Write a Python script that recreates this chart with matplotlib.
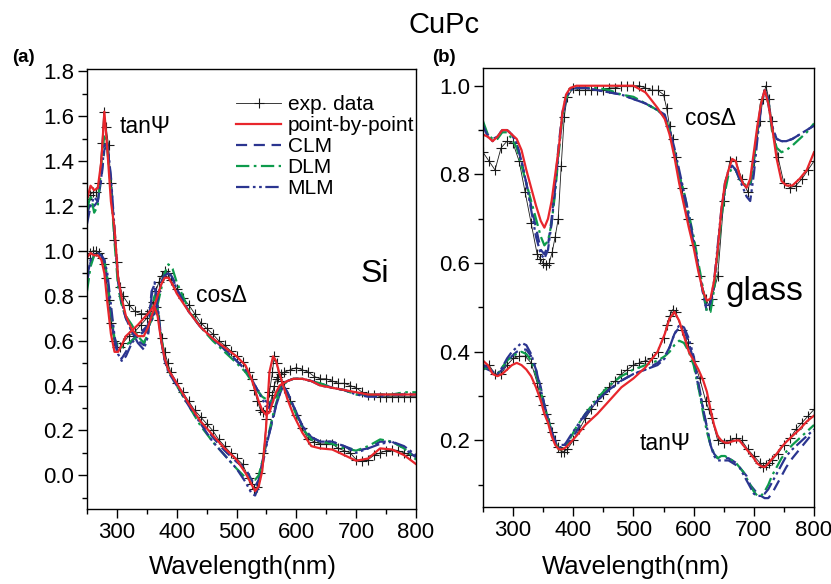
import numpy as np
import matplotlib
matplotlib.use("Agg")
import matplotlib.pyplot as plt
from matplotlib.ticker import MultipleLocator

plt.rcParams['font.family'] = ['Liberation Sans', 'DejaVu Sans']

# ---------------- panel (a): CuPc on Si ----------------
a_wl_exp = [250, 255, 260, 265, 270, 275, 278, 282, 286, 290,
            295, 300, 305, 310, 320, 330, 340, 350, 355, 360,
            365, 370, 375, 380, 385, 390, 400, 410, 420, 430,
            440, 450, 460, 470, 480, 490, 500, 510, 520, 525,
            530, 535, 540, 545, 550, 555, 560, 563, 567, 570,
            575, 580, 590, 600, 610, 620, 630, 640, 650, 660,
            670, 680, 690, 700, 710, 720, 730, 740, 750, 760,
            770, 780, 790, 800]
a_tan_exp = [1.23, 1.25, 1.26, 1.26, 1.30, 1.48, 1.62, 1.55, 1.47, 1.30,
             1.05, 0.95, 0.84, 0.80, 0.76, 0.73, 0.72, 0.72, 0.73, 0.75,
             0.75, 0.69, 0.61, 0.55, 0.50, 0.46, 0.41, 0.37, 0.33, 0.29,
             0.26, 0.23, 0.20, 0.16, 0.13, 0.10, 0.075, 0.05, -0.01, -0.04,
             -0.06, -0.05, 0.01, 0.10, 0.25, 0.37, 0.46, 0.53, 0.50, 0.46,
             0.42, 0.39, 0.33, 0.27, 0.21, 0.16, 0.15, 0.14, 0.14, 0.14,
             0.12, 0.11, 0.10, 0.07, 0.065, 0.07, 0.09, 0.10, 0.11, 0.115,
             0.11, 0.10, 0.09, 0.09]
a_cos_exp = [0.97, 0.99, 1.00, 1.00, 0.99, 0.97, 0.94, 0.88, 0.78, 0.68,
             0.60, 0.57, 0.57, 0.59, 0.62, 0.64, 0.67, 0.70, 0.73, 0.77,
             0.82, 0.86, 0.89, 0.91, 0.90, 0.87, 0.83, 0.79, 0.76, 0.72,
             0.68, 0.655, 0.63, 0.60, 0.58, 0.555, 0.53, 0.505, 0.46, 0.43,
             0.38, 0.33, 0.29, 0.28, 0.285, 0.31, 0.36, 0.40, 0.43, 0.44,
             0.45, 0.46, 0.47, 0.48, 0.47, 0.46, 0.44, 0.43, 0.43, 0.42,
             0.41, 0.41, 0.40, 0.39, 0.37, 0.36, 0.36, 0.35, 0.35, 0.35,
             0.35, 0.35, 0.35, 0.35]

a_wl_fit = [250, 256, 262, 268, 274, 279, 284, 290, 296, 302,
            308, 315, 325, 335, 345, 352, 358, 363, 368, 374,
            380, 386, 393, 400, 420, 440, 460, 480, 500, 515,
            525, 531, 537, 543, 549, 555, 561, 566, 572, 578,
            585, 595, 610, 625, 640, 660, 680, 700, 720, 740,
            760, 780, 800]
a_tan_pbp = [1.23, 1.29, 1.27, 1.28, 1.40, 1.62, 1.45, 1.22, 1.10, 0.88,
             0.79, 0.71, 0.65, 0.62, 0.62, 0.66, 0.71, 0.75, 0.71, 0.60,
             0.52, 0.47, 0.44, 0.41, 0.32, 0.24, 0.18, 0.12, 0.07, 0.01,
             -0.04, -0.07, -0.05, 0.02, 0.20, 0.46, 0.53, 0.51, 0.45, 0.40,
             0.34, 0.27, 0.19, 0.13, 0.12, 0.115, 0.09, 0.065, 0.075, 0.12,
             0.115, 0.09, 0.05]
a_tan_clm = [1.16, 1.22, 1.20, 1.22, 1.32, 1.45, 1.47, 1.32, 1.08, 0.86,
             0.76, 0.70, 0.64, 0.60, 0.58, 0.65, 0.82, 0.85, 0.74, 0.60,
             0.51, 0.47, 0.44, 0.41, 0.32, 0.24, 0.17, 0.11, 0.06, 0.03,
             -0.02, -0.05, -0.02, 0.06, 0.13, 0.19, 0.25, 0.31, 0.36, 0.40,
             0.37, 0.31, 0.22, 0.17, 0.15, 0.15, 0.13, 0.11, 0.12, 0.15,
             0.15, 0.12, 0.08]
a_tan_dlm = [1.18, 1.25, 1.17, 1.20, 1.38, 1.52, 1.45, 1.28, 1.04, 0.84,
             0.76, 0.71, 0.67, 0.62, 0.59, 0.63, 0.74, 0.80, 0.74, 0.62,
             0.52, 0.47, 0.43, 0.40, 0.31, 0.22, 0.15, 0.09, 0.03, -0.01,
             -0.02, -0.02, 0.00, 0.06, 0.14, 0.20, 0.27, 0.32, 0.37, 0.40,
             0.36, 0.30, 0.21, 0.16, 0.15, 0.14, 0.12, 0.11, 0.13, 0.16,
             0.15, 0.12, 0.07]
a_tan_mlm = [1.12, 1.20, 1.24, 1.22, 1.33, 1.47, 1.48, 1.33, 1.10, 0.88,
             0.77, 0.70, 0.64, 0.59, 0.56, 0.62, 0.80, 0.86, 0.76, 0.61,
             0.51, 0.46, 0.43, 0.40, 0.31, 0.23, 0.15, 0.09, 0.03, -0.03,
             -0.08, -0.09, -0.05, 0.04, 0.12, 0.19, 0.26, 0.31, 0.36, 0.40,
             0.37, 0.31, 0.22, 0.17, 0.15, 0.15, 0.13, 0.10, 0.12, 0.14,
             0.15, 0.13, 0.09]
a_cos_pbp = [0.97, 0.99, 0.98, 0.98, 0.96, 0.90, 0.77, 0.63, 0.55, 0.55,
             0.58, 0.62, 0.645, 0.67, 0.70, 0.72, 0.74, 0.76, 0.80, 0.85,
             0.88, 0.88, 0.85, 0.81, 0.73, 0.66, 0.61, 0.57, 0.53, 0.49,
             0.43, 0.38, 0.33, 0.29, 0.27, 0.28, 0.33, 0.37, 0.40, 0.41,
             0.42, 0.43, 0.43, 0.42, 0.40, 0.39, 0.38, 0.37, 0.36, 0.36,
             0.36, 0.36, 0.36]
a_cos_clm = [0.86, 0.95, 0.98, 0.99, 0.98, 0.95, 0.87, 0.72, 0.60, 0.53,
             0.52, 0.55, 0.60, 0.63, 0.65, 0.67, 0.70, 0.73, 0.79, 0.86,
             0.90, 0.91, 0.88, 0.83, 0.73, 0.66, 0.61, 0.56, 0.51, 0.47,
             0.43, 0.40, 0.37, 0.35, 0.33, 0.32, 0.34, 0.36, 0.39, 0.41,
             0.42, 0.43, 0.43, 0.42, 0.41, 0.39, 0.38, 0.36, 0.36, 0.36,
             0.36, 0.36, 0.36]
a_cos_dlm = [0.82, 0.93, 0.98, 0.99, 0.98, 0.96, 0.88, 0.73, 0.61, 0.57,
             0.57, 0.58, 0.60, 0.62, 0.64, 0.66, 0.69, 0.72, 0.76, 0.83,
             0.90, 0.94, 0.92, 0.86, 0.74, 0.66, 0.60, 0.55, 0.50, 0.46,
             0.42, 0.39, 0.37, 0.35, 0.34, 0.33, 0.33, 0.35, 0.38, 0.40,
             0.42, 0.43, 0.43, 0.42, 0.41, 0.39, 0.38, 0.36, 0.36, 0.36,
             0.36, 0.37, 0.37]
a_cos_mlm = [0.88, 0.96, 0.99, 0.99, 0.98, 0.96, 0.90, 0.76, 0.62, 0.54,
             0.51, 0.53, 0.59, 0.62, 0.64, 0.66, 0.69, 0.72, 0.78, 0.85,
             0.89, 0.90, 0.88, 0.83, 0.73, 0.66, 0.61, 0.56, 0.51, 0.47,
             0.43, 0.40, 0.37, 0.34, 0.31, 0.30, 0.33, 0.36, 0.39, 0.41,
             0.42, 0.43, 0.43, 0.42, 0.40, 0.39, 0.38, 0.36, 0.35, 0.35,
             0.36, 0.36, 0.36]

# ---------------- panel (b): CuPc on glass ----------------
b_wl_exp = [250, 260, 270, 280, 290, 300, 310, 320, 330, 340,
            345, 350, 355, 360, 365, 370, 375, 380, 385, 390,
            400, 410, 420, 430, 440, 450, 460, 470, 480, 490,
            500, 510, 520, 530, 540, 550, 555, 560, 565, 570,
            580, 590, 600, 610, 620, 625, 630, 640, 650, 660,
            670, 680, 690, 700, 710, 715, 720, 725, 730, 740,
            750, 760, 770, 780, 790, 800]
b_cos_exp = [0.85, 0.83, 0.81, 0.86, 0.875, 0.87, 0.83, 0.76, 0.69, 0.62,
             0.61, 0.60, 0.595, 0.60, 0.625, 0.66, 0.70, 0.82, 0.93, 0.975,
             0.995, 0.99, 0.99, 0.99, 0.99, 0.99, 0.995, 0.995, 1.0, 1.0,
             1.0, 1.0, 0.995, 0.99, 0.99, 0.98, 0.95, 0.91, 0.88, 0.84,
             0.77, 0.70, 0.64, 0.57, 0.52, 0.505, 0.52, 0.57, 0.74, 0.83,
             0.83, 0.79, 0.76, 0.83, 0.92, 0.97, 1.0, 0.97, 0.92, 0.84,
             0.78, 0.77, 0.775, 0.79, 0.81, 0.83]
b_tan_exp = [0.37, 0.37, 0.35, 0.35, 0.37, 0.385, 0.39, 0.39, 0.375, 0.33,
             0.30, 0.28, 0.26, 0.24, 0.22, 0.20, 0.185, 0.175, 0.175, 0.18,
             0.20, 0.225, 0.25, 0.27, 0.29, 0.305, 0.32, 0.335, 0.35, 0.36,
             0.37, 0.375, 0.38, 0.385, 0.40, 0.43, 0.46, 0.48, 0.495, 0.49,
             0.45, 0.42, 0.38, 0.34, 0.29, 0.27, 0.25, 0.20, 0.195, 0.20,
             0.205, 0.20, 0.18, 0.165, 0.15, 0.14, 0.145, 0.15, 0.155, 0.17,
             0.19, 0.205, 0.225, 0.24, 0.255, 0.27]

b_wl_fit = [250, 258, 266, 274, 282, 290, 298, 306, 314, 322,
            330, 338, 346, 352, 358, 364, 370, 376, 382, 388,
            395, 405, 420, 440, 460, 480, 500, 520, 540, 552,
            560, 568, 576, 584, 592, 600, 608, 616, 622, 628,
            634, 640, 646, 652, 658, 664, 670, 676, 682, 688,
            694, 700, 706, 712, 718, 724, 730, 738, 746, 754,
            764, 776, 788, 800]
b_cos_pbp = [0.89, 0.885, 0.875, 0.885, 0.90, 0.90, 0.89, 0.88, 0.855, 0.81,
             0.77, 0.73, 0.695, 0.68, 0.70, 0.74, 0.80, 0.86, 0.94, 0.98,
             0.995, 1.0, 1.0, 1.0, 1.0, 1.0, 1.0, 0.985, 0.95, 0.925,
             0.89, 0.84, 0.78, 0.73, 0.68, 0.635, 0.58, 0.535, 0.515, 0.52,
             0.56, 0.63, 0.72, 0.78, 0.81, 0.835, 0.83, 0.80, 0.78, 0.77,
             0.79, 0.85, 0.91, 0.96, 0.99, 0.96, 0.91, 0.835, 0.785, 0.775,
             0.775, 0.79, 0.81, 0.85]
b_cos_clm = [0.91, 0.89, 0.88, 0.885, 0.90, 0.90, 0.89, 0.87, 0.83, 0.78,
             0.73, 0.68, 0.63, 0.62, 0.64, 0.70, 0.78, 0.87, 0.94, 0.975,
             0.99, 0.995, 0.995, 0.99, 0.985, 0.98, 0.97, 0.96, 0.945, 0.93,
             0.90, 0.85, 0.80, 0.75, 0.70, 0.645, 0.59, 0.53, 0.49, 0.50,
             0.55, 0.63, 0.71, 0.77, 0.81, 0.82, 0.81, 0.79, 0.78, 0.77,
             0.77, 0.83, 0.90, 0.96, 0.99, 0.96, 0.91, 0.88, 0.875, 0.875,
             0.88, 0.89, 0.90, 0.91]
b_cos_dlm = [0.92, 0.89, 0.88, 0.88, 0.895, 0.895, 0.88, 0.86, 0.82, 0.78,
             0.74, 0.70, 0.66, 0.64, 0.65, 0.69, 0.76, 0.85, 0.93, 0.97,
             0.99, 0.995, 0.995, 0.995, 0.99, 0.98, 0.975, 0.96, 0.945, 0.93,
             0.90, 0.85, 0.80, 0.76, 0.71, 0.66, 0.60, 0.54, 0.49, 0.49,
             0.54, 0.62, 0.70, 0.76, 0.80, 0.815, 0.81, 0.79, 0.78, 0.775,
             0.78, 0.83, 0.90, 0.96, 0.99, 0.97, 0.90, 0.86, 0.85, 0.855,
             0.865, 0.88, 0.895, 0.915]
b_cos_mlm = [0.91, 0.885, 0.875, 0.885, 0.90, 0.90, 0.89, 0.87, 0.83, 0.78,
             0.72, 0.66, 0.62, 0.61, 0.63, 0.69, 0.77, 0.86, 0.93, 0.97,
             0.99, 0.995, 0.995, 0.99, 0.985, 0.98, 0.97, 0.96, 0.945, 0.935,
             0.90, 0.86, 0.81, 0.76, 0.71, 0.65, 0.59, 0.53, 0.50, 0.51,
             0.56, 0.64, 0.72, 0.78, 0.81, 0.82, 0.81, 0.79, 0.77, 0.75,
             0.74, 0.80, 0.88, 0.95, 0.99, 0.97, 0.91, 0.88, 0.875, 0.875,
             0.88, 0.89, 0.90, 0.91]
b_tan_pbp = [0.38, 0.37, 0.35, 0.345, 0.35, 0.36, 0.37, 0.375, 0.37, 0.36,
             0.345, 0.32, 0.29, 0.26, 0.24, 0.21, 0.19, 0.18, 0.18, 0.185,
             0.195, 0.21, 0.235, 0.26, 0.29, 0.32, 0.34, 0.365, 0.40, 0.44,
             0.475, 0.49, 0.47, 0.435, 0.40, 0.38, 0.36, 0.335, 0.31, 0.27,
             0.235, 0.21, 0.20, 0.195, 0.195, 0.198, 0.20, 0.20, 0.19, 0.18,
             0.17, 0.16, 0.148, 0.142, 0.14, 0.148, 0.158, 0.17, 0.185, 0.197,
             0.21, 0.225, 0.243, 0.256]
b_tan_clm = [0.365, 0.36, 0.355, 0.35, 0.36, 0.375, 0.39, 0.40, 0.405, 0.405,
             0.39, 0.36, 0.32, 0.28, 0.25, 0.22, 0.20, 0.19, 0.19, 0.19,
             0.20, 0.22, 0.255, 0.29, 0.315, 0.335, 0.35, 0.36, 0.375, 0.39,
             0.41, 0.44, 0.455, 0.45, 0.42, 0.38, 0.32, 0.27, 0.23, 0.19,
             0.17, 0.16, 0.16, 0.16, 0.16, 0.155, 0.15, 0.14, 0.13, 0.12,
             0.10, 0.09, 0.08, 0.075, 0.07, 0.07, 0.08, 0.10, 0.12, 0.14,
             0.16, 0.18, 0.20, 0.22]
b_tan_dlm = [0.36, 0.365, 0.355, 0.35, 0.365, 0.38, 0.39, 0.395, 0.40, 0.395,
             0.38, 0.35, 0.31, 0.28, 0.25, 0.22, 0.195, 0.18, 0.18, 0.19,
             0.205, 0.23, 0.26, 0.295, 0.325, 0.345, 0.36, 0.37, 0.38, 0.39,
             0.40, 0.415, 0.425, 0.42, 0.40, 0.37, 0.32, 0.26, 0.22, 0.19,
             0.17, 0.16, 0.165, 0.165, 0.16, 0.155, 0.15, 0.14, 0.13, 0.115,
             0.10, 0.085, 0.075, 0.075, 0.085, 0.10, 0.12, 0.14, 0.16, 0.175,
             0.19, 0.205, 0.22, 0.235]
b_tan_mlm = [0.37, 0.365, 0.355, 0.35, 0.365, 0.385, 0.40, 0.41, 0.42, 0.415,
             0.395, 0.36, 0.315, 0.28, 0.25, 0.22, 0.195, 0.185, 0.185, 0.195,
             0.21, 0.23, 0.26, 0.29, 0.315, 0.335, 0.35, 0.36, 0.37, 0.385,
             0.41, 0.44, 0.46, 0.455, 0.43, 0.39, 0.33, 0.27, 0.23, 0.19,
             0.165, 0.155, 0.155, 0.155, 0.155, 0.15, 0.145, 0.14, 0.125, 0.11,
             0.095, 0.08, 0.075, 0.075, 0.08, 0.09, 0.105, 0.125, 0.145, 0.165,
             0.18, 0.195, 0.21, 0.225]

RED = '#e8262c'
BLUE = '#2b3590'
GREEN = '#0d9b4c'

exp_style = dict(color='#1a1a1a', lw=0.6, marker='+', ms=7, mew=0.8)
fit_styles = {
    'CLM': dict(color=BLUE, lw=1.6, dashes=(5, 3)),
    'DLM': dict(color=GREEN, lw=1.6, dashes=(6, 2, 1.2, 2)),
    'MLM': dict(color=BLUE, lw=1.6, dashes=(6, 1.6, 1.2, 1.6, 1.2, 1.6)),
    'point-by-point': dict(color=RED, lw=1.6, ls='-'),
}

W, H = 831, 584
fig = plt.figure(figsize=(W / 100, H / 100), dpi=100)
ax_a = fig.add_axes([87 / W, 1 - 509 / H, 329 / W, 440 / H])
ax_b = fig.add_axes([483 / W, 1 - 507 / H, 331 / W, 439 / H])


def draw_panel(ax, wl_exp, exp_sets, wl_fit, fit_sets):
    handles = {}
    for y in exp_sets:
        handles['exp. data'], = ax.plot(wl_exp, y, **exp_style)
    for name in ['CLM', 'DLM', 'MLM', 'point-by-point']:
        for y in fit_sets[name]:
            handles[name], = ax.plot(wl_fit, y, **fit_styles[name])
    return handles


h = draw_panel(ax_a, a_wl_exp, [a_tan_exp, a_cos_exp], a_wl_fit,
               {'CLM': [a_tan_clm, a_cos_clm], 'DLM': [a_tan_dlm, a_cos_dlm],
                'MLM': [a_tan_mlm, a_cos_mlm],
                'point-by-point': [a_tan_pbp, a_cos_pbp]})
draw_panel(ax_b, b_wl_exp, [b_tan_exp, b_cos_exp], b_wl_fit,
           {'CLM': [b_tan_clm, b_cos_clm], 'DLM': [b_tan_dlm, b_cos_dlm],
            'MLM': [b_tan_mlm, b_cos_mlm],
            'point-by-point': [b_tan_pbp, b_cos_pbp]})

ax_a.set_xlim(250, 800)
ax_a.set_ylim(-0.15, 1.81)
ax_a.yaxis.set_major_locator(MultipleLocator(0.2))
ax_b.set_xlim(250, 800)
ax_b.set_ylim(0.05, 1.04)
ax_b.yaxis.set_major_locator(MultipleLocator(0.2))

for ax in (ax_a, ax_b):
    ax.xaxis.set_major_locator(MultipleLocator(100))
    ax.xaxis.set_minor_locator(MultipleLocator(50))
    ax.yaxis.set_minor_locator(MultipleLocator(0.1))
    ax.yaxis.set_major_formatter(plt.FormatStrFormatter('%.1f'))
    ax.tick_params(which='both', direction='out', top=False, right=False,
                   width=1.0, labelsize=16, pad=3)
    ax.tick_params(which='major', length=6.5)
    ax.tick_params(which='minor', length=3.5)
    for sp in ax.spines.values():
        sp.set_linewidth(1.0)

leg_order = ['exp. data', 'point-by-point', 'CLM', 'DLM', 'MLM']
ax_a.legend([h[k] for k in leg_order], leg_order, loc='upper left',
            bbox_to_anchor=(0.42, 0.965), frameon=False, fontsize=15,
            borderpad=0, handlelength=2.2, handletextpad=0.3,
            labelspacing=0.1, numpoints=1)


def px_text(x, y, s, **kw):
    fig.text(x / W, 1 - y / H, s, **kw)


px_text(444, 33, 'CuPc', fontsize=21, ha='center', va='baseline')
px_text(12, 62, '(a)', fontsize=13.5, fontweight='bold', va='baseline')
px_text(432, 62, '(b)', fontsize=13.5, fontweight='bold', va='baseline')
px_text(120, 133, 'tan\u03a8', fontsize=16.5, va='baseline')
px_text(196, 302, 'cos\u0394', fontsize=16.5, va='baseline')
px_text(361, 282, 'Si', fontsize=23, va='baseline')
px_text(685, 125, 'cos\u0394', fontsize=16.5, va='baseline')
px_text(726, 300, 'glass', fontsize=24, va='baseline')
px_text(640, 450, 'tan\u03a8', fontsize=16.5, va='baseline')
px_text(243, 574, 'Wavelength(nm)', fontsize=18.5, ha='center', va='baseline')
px_text(636, 574, 'Wavelength(nm)', fontsize=18.5, ha='center', va='baseline')

fig.savefig('out.png', dpi=100)
